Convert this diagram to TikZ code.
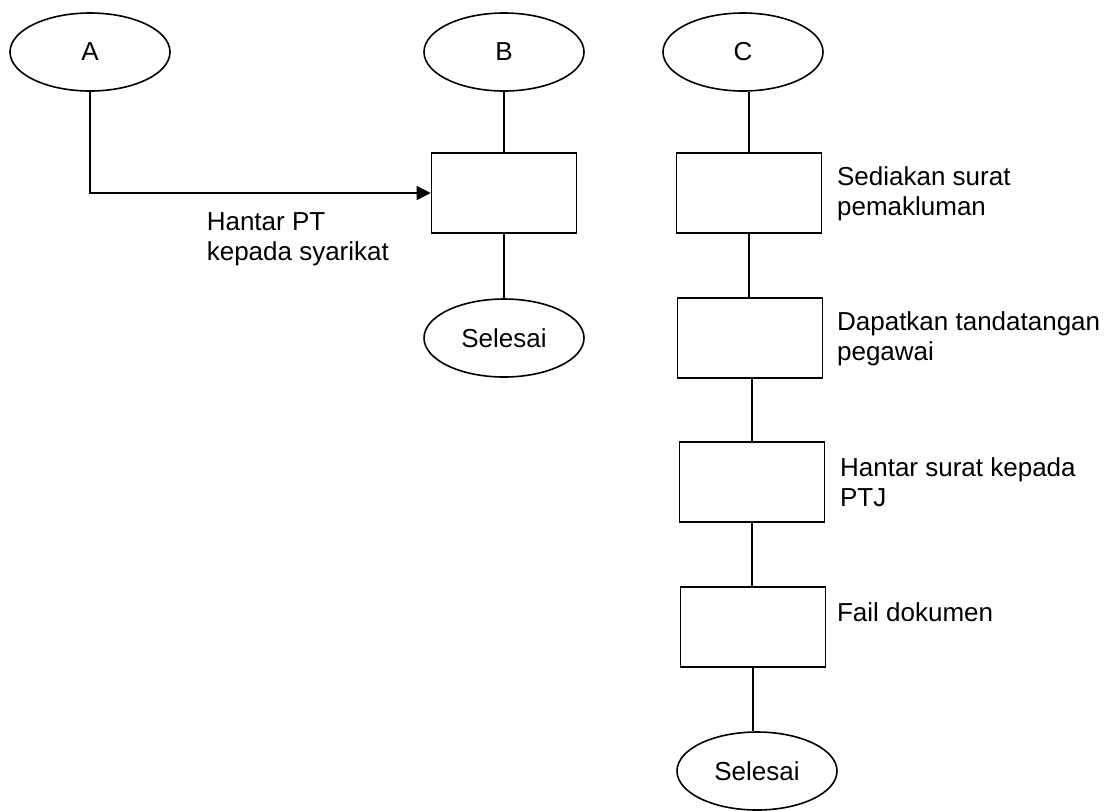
\documentclass[tikz,border=0pt]{standalone}
\usepackage{fontspec}
\setmainfont{Liberation Sans}
\usetikzlibrary{shapes, arrows.meta}
\newcommand{\boxwidth}{72.5pt}
\newcommand{\boxheight}{40pt}

\begin{document}
\begin{tikzpicture}[x=0.5pt,y=-0.5pt,thick,
  every node/.style={font=\fontsize{13}{15}\selectfont},
  terminal/.style={draw,ellipse,inner sep=0pt,minimum width=80pt,minimum height=39pt},
  process/.style={draw,rectangle,inner sep=0pt,minimum width=\boxwidth,minimum height=\boxheight},
  note/.style={align=left,inner sep=0pt,anchor=north west}]
\useasboundingbox (0,0) rectangle (1118,810);

% column A and B
\node[terminal] (A) at (90,52) {A};
\node[terminal] (B) at (504,52) {B};
\node[process] (boxB) at (504,193) {};
\node[terminal] (endB) at (504,338) {Selesai};
\node[note] (noteB) at (206,212) {Hantar PT\\kepada syarikat};

\draw [-{Triangle[length=7pt,width=7pt]}] (A) |- (boxB);
\draw (B) -- (boxB);
\draw (boxB) -- (endB);

% column C
\node[terminal] (C) at (743,52) {C};
\node[process] (box1) at (749,193) {};
\node[process] (box2) at (750,338) {};
\node[process] (box3) at (752,482) {};
\node[process] (box4) at (753,627) {};
\node[terminal] (endC) at (757,771) {Selesai};

\node[note,xshift=7pt,yshift=-7pt] (note1) at (box1.north east) {Sediakan surat\\pemakluman};
\node[note,xshift=6.5pt,yshift=-7pt] (note2) at (box2.north east) {Dapatkan tandatangan\\pegawai};
\node[note,xshift=7pt,yshift=-8pt] (note3) at (box3.north east) {Hantar surat kepada\\PTJ};
\node[note,xshift=5pt,yshift=-8pt] (note4) at (box4.north east) {Fail dokumen};

\draw (C.south -| box1) -- (box1);
\draw (box1.south) -- (box1.south |- box2.north);
\draw (box2.south -| box3) -- (box3);
\draw (box3.south) -- (box3.south |- box4.north);
\draw (box4.south) -- (box4.south |- endC.north);
\end{tikzpicture}
\end{document}
